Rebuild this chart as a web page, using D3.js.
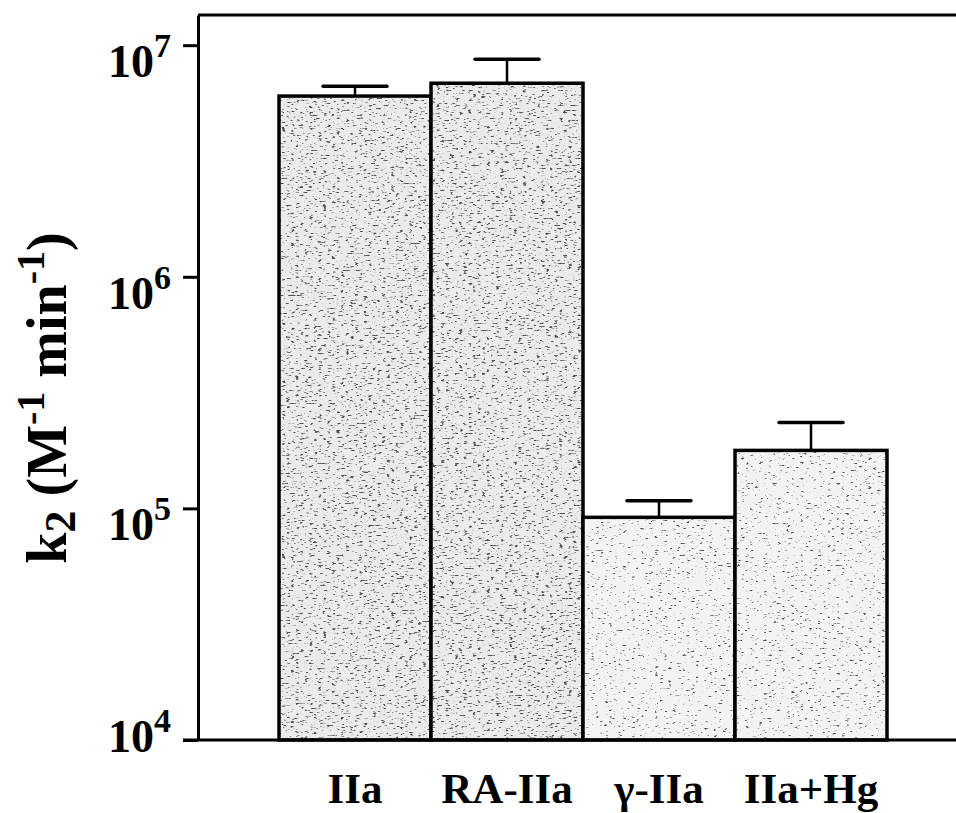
<!DOCTYPE html>
<html>
<head>
<meta charset="utf-8">
<script src="https://cdn.jsdelivr.net/npm/d3@7"></script>
<style>
  html, body { margin: 0; padding: 0; background: #fff; }
  svg { display: block; }
  text { font-family: "Liberation Serif", "Times New Roman", serif; font-weight: bold; fill: #000; }
</style>
</head>
<body>
<div id="app"></div>
<script>
// data
const categories = ['IIa', 'RA-IIa', 'γ-IIa', 'IIa+Hg']
const k2_values = [6.03e6, 6.85e6, 9.15e4, 1.78e5]
const k2_upper = [6.65e6, 8.7e6, 1.08e5, 2.35e5]
const tick_values = [1e4, 1e5, 1e6, 1e7]
const tick_exponents = ['4', '5', '6', '7']
const bar_tone = ['dark', 'dark', 'light', 'light']

const width = 956, height = 813
const plot_left = 198, plot_bottom = 740, plot_top = 15, plot_right = 956

let svg = d3.select('#app').append('svg')
  .attr('width', width)
  .attr('height', height)

let defs = svg.append('defs')
// stipple texture, two densities
const tones = { dark: { base: '#ebebeb', k: 7, c: 2.8, seed: 4 }, light: { base: '#f3f3f3', k: 7, c: 2.45, seed: 9 } }
Object.entries(tones).forEach(([name, t]) => {
  let f = defs.append('filter').attr('id', 'stip-' + name)
    .attr('x', 0).attr('y', 0).attr('width', 1).attr('height', 1)
  f.append('feTurbulence').attr('type', 'fractalNoise')
    .attr('baseFrequency', '0.22 0.6').attr('numOctaves', 2).attr('seed', t.seed).attr('result', 'n')
  f.append('feColorMatrix').attr('in', 'n').attr('type', 'matrix')
    .attr('values', `0 0 0 0 0.08  0 0 0 0 0.08  0 0 0 0 0.08  -${t.k} 0 0 0 ${t.c}`).attr('result', 'dots')
  f.append('feComposite').attr('in', 'dots').attr('in2', 'SourceGraphic').attr('operator', 'in')
})

const x = d3.scaleBand().domain(categories).range([279, 887]).padding(0)
const y = d3.scaleLog().domain([1e4, 1.35e7]).range([plot_bottom, plot_top])

const rows = categories.map((c, i) => ({ c, v: k2_values[i], up: k2_upper[i], tone: bar_tone[i] }))

// error bars (upper only), drawn under the bars
let err = svg.append('g').selectAll('g').data(rows).join('g')
err.append('line')
  .attr('x1', d => x(d.c) + x.bandwidth() / 2).attr('x2', d => x(d.c) + x.bandwidth() / 2)
  .attr('y1', d => y(d.v)).attr('y2', d => y(d.up))
  .attr('stroke', '#000').attr('stroke-width', 2.5)
err.append('line')
  .attr('x1', d => x(d.c) + x.bandwidth() / 2 - 32).attr('x2', d => x(d.c) + x.bandwidth() / 2 + 32)
  .attr('y1', d => y(d.up)).attr('y2', d => y(d.up))
  .attr('stroke', '#000').attr('stroke-width', 3.5).attr('stroke-linecap', 'round')

// bars
let bars = svg.append('g').selectAll('g').data(rows).join('g')
bars.append('rect')
  .attr('x', d => x(d.c)).attr('width', x.bandwidth())
  .attr('y', d => y(d.v)).attr('height', d => plot_bottom - y(d.v))
  .attr('fill', d => tones[d.tone].base)
bars.append('rect')
  .attr('x', d => x(d.c)).attr('width', x.bandwidth())
  .attr('y', d => y(d.v)).attr('height', d => plot_bottom - y(d.v))
  .attr('fill', '#000').attr('filter', d => `url(#stip-${d.tone})`)
bars.append('rect')
  .attr('x', d => x(d.c)).attr('width', x.bandwidth())
  .attr('y', d => y(d.v)).attr('height', d => plot_bottom - y(d.v))
  .attr('fill', 'none').attr('stroke', '#000').attr('stroke-width', 3.5)

// y axis
let yAxis = svg.append('g').attr('transform', `translate(${plot_left},0)`)
  .call(d3.axisLeft(y).tickValues(tick_values).tickFormat('').tickSizeInner(15).tickSizeOuter(0))
yAxis.selectAll('line, path').attr('stroke', '#000').attr('stroke-width', 3)

let labels = svg.append('g').selectAll('text').data(tick_values).join('text')
  .attr('x', 171)
  .attr('y', d => y(d) + (d === 1e4 ? 12 : 32))
  .attr('text-anchor', 'end')
  .style('font-size', '46px')
labels.append('tspan').text('10')
labels.append('tspan').attr('dy', -20).style('font-size', '34px').text((d, i) => tick_exponents[i])

// frame top and x axis line
svg.append('line').attr('x1', plot_left).attr('x2', plot_right).attr('y1', plot_top).attr('y2', plot_top)
  .attr('stroke', '#000').attr('stroke-width', 3)
let xAxis = svg.append('g').attr('transform', `translate(0,${plot_bottom})`)
  .call(d3.axisBottom(x).tickSize(0).tickPadding(32))
xAxis.select('.domain').remove()
xAxis.selectAll('text').style('font-size', '43px').style('font-family', '"Liberation Serif", serif').attr('fill', '#000')
svg.append('line').attr('x1', 183).attr('x2', plot_right).attr('y1', plot_bottom).attr('y2', plot_bottom)
  .attr('stroke', '#000').attr('stroke-width', 3)

// y title
let title = svg.append('text')
  .attr('transform', 'translate(66,398) rotate(-90)')
  .attr('text-anchor', 'middle')
  .style('font-size', '56px')
title.append('tspan').text('k')
title.append('tspan').attr('dy', 9).style('font-size', '44px').text('2')
title.append('tspan').attr('dy', -9).text(' (M')
title.append('tspan').attr('dy', -22).style('font-size', '40px').text('-1')
title.append('tspan').attr('dy', 22).text(' min')
title.append('tspan').attr('dy', -22).style('font-size', '40px').text('-1')
title.append('tspan').attr('dy', 22).text(')')
</script>
</body>
</html>
